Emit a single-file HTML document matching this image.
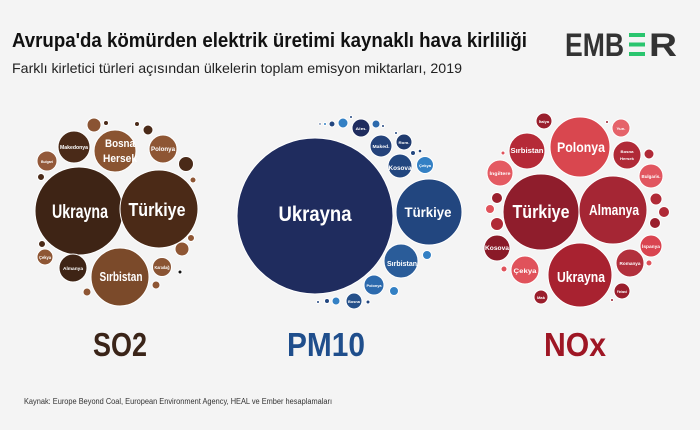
<!DOCTYPE html>
<html><head><meta charset="utf-8"><style>
html,body{margin:0;padding:0;background:#f4f4f4;}
svg{display:block;}
text{font-family:"Liberation Sans","DejaVu Sans",sans-serif;}
.w{fill:#fff;font-weight:bold;text-anchor:middle;}
circle{stroke:#fff;stroke-width:1;}
</style></head><body>
<svg width="700" height="430" viewBox="0 0 700 430" xmlns="http://www.w3.org/2000/svg">
<rect width="700" height="430" fill="#f4f4f4"/>
<text x="12" y="47" font-size="20" font-weight="bold" fill="#111" textLength="515" lengthAdjust="spacingAndGlyphs">Avrupa'da kömürden elektrik üretimi kaynaklı hava kirliliği</text>
<text x="12" y="73" font-size="14" fill="#222" textLength="450" lengthAdjust="spacingAndGlyphs">Farklı kirletici türleri açısından ülkelerin toplam emisyon miktarları, 2019</text>
<!-- logo -->
<text x="565" y="56" font-size="32" font-weight="bold" fill="#333" textLength="59" lengthAdjust="spacingAndGlyphs">EMB</text>
<rect x="629" y="33" width="16" height="4" fill="#2ac56e"/>
<rect x="629" y="42.5" width="16" height="4" fill="#2ac56e"/>
<rect x="629" y="52" width="16" height="4" fill="#2ac56e"/>
<text x="649" y="56" font-size="32" font-weight="bold" fill="#333" textLength="28" lengthAdjust="spacingAndGlyphs">R</text>

<!-- SO2 -->
<g>
<circle cx="79" cy="211" r="44" fill="#3e2415"/>
<circle cx="159" cy="209" r="39" fill="#4b2a17"/>
<circle cx="120" cy="277" r="29" fill="#7b4a2a"/>
<circle cx="115" cy="151" r="21" fill="#8a5431"/>
<circle cx="74" cy="147" r="16" fill="#4a2a18"/>
<circle cx="163" cy="149" r="14" fill="#8e5634"/>
<circle cx="47" cy="161" r="10" fill="#93593a"/>
<circle cx="94" cy="125" r="7" fill="#8a5433"/>
<circle cx="106" cy="123" r="2.5" fill="#4a2a18"/>
<circle cx="148" cy="130" r="5" fill="#4a2a18"/>
<circle cx="137" cy="124" r="2.5" fill="#4a2a18"/>
<circle cx="186" cy="164" r="7.5" fill="#4a2a18"/>
<circle cx="193" cy="180" r="3" fill="#8e5634"/>
<circle cx="41" cy="177" r="3.5" fill="#4a2a18"/>
<circle cx="42" cy="244" r="3.5" fill="#4a2a18"/>
<circle cx="45" cy="257" r="8" fill="#8e5634"/>
<circle cx="73" cy="268" r="14" fill="#3e2415"/>
<circle cx="87" cy="292" r="4" fill="#8e5634"/>
<circle cx="162" cy="267" r="9.5" fill="#8a5433"/>
<circle cx="182" cy="249" r="7" fill="#8e5634"/>
<circle cx="192" cy="246" r="0" fill="#8e5634"/>
<circle cx="191" cy="238" r="3.5" fill="#8e5634"/>
<circle cx="180" cy="272" r="2" fill="#111"/>
<circle cx="156" cy="285" r="4" fill="#8e5634"/>
<text class="w" x="80" y="218" font-size="19" textLength="56" lengthAdjust="spacingAndGlyphs">Ukrayna</text>
<text class="w" x="157" y="216" font-size="18" textLength="57" lengthAdjust="spacingAndGlyphs">Türkiye</text>
<text class="w" x="121" y="281" font-size="13" textLength="43" lengthAdjust="spacingAndGlyphs">Sırbistan</text>
<text class="w" x="120" y="147" font-size="11" textLength="30" lengthAdjust="spacingAndGlyphs">Bosna</text>
<text class="w" x="120" y="162" font-size="11" textLength="34" lengthAdjust="spacingAndGlyphs">Hersek</text>
<text class="w" x="74" y="149" font-size="5" textLength="28" lengthAdjust="spacingAndGlyphs">Makedonya</text>
<text class="w" x="163" y="151" font-size="6" textLength="24" lengthAdjust="spacingAndGlyphs">Polonya</text>
<text class="w" x="47" y="163" font-size="4" textLength="12" lengthAdjust="spacingAndGlyphs">Bulgari</text>
<text class="w" x="45" y="259" font-size="4.5" textLength="12" lengthAdjust="spacingAndGlyphs">Çekya</text>
<text class="w" x="73" y="270" font-size="4.5" textLength="20" lengthAdjust="spacingAndGlyphs">Almanya</text>
<text class="w" x="162" y="269" font-size="4.5" textLength="15" lengthAdjust="spacingAndGlyphs">Karadağ</text>
</g>

<!-- PM10 -->
<g>
<circle cx="315" cy="216" r="78" fill="#1f2c5e"/>
<circle cx="429" cy="212" r="33" fill="#22467f"/>
<circle cx="401" cy="261" r="17" fill="#2a5c99"/>
<circle cx="374" cy="285" r="10" fill="#2c6aad"/>
<circle cx="354" cy="301" r="8" fill="#25508a"/>
<circle cx="336" cy="301" r="4" fill="#3380c4"/>
<circle cx="327" cy="301" r="2.5" fill="#22467f"/>
<circle cx="318" cy="302" r="1.5" fill="#22467f"/>
<circle cx="368" cy="302" r="2" fill="#22467f"/>
<circle cx="394" cy="291" r="4.5" fill="#3380c4"/>
<circle cx="427" cy="255" r="4.5" fill="#3380c4"/>
<circle cx="400" cy="166" r="12" fill="#22467f"/>
<circle cx="425" cy="165" r="8.5" fill="#3380c4"/>
<circle cx="381" cy="146" r="11" fill="#24427a"/>
<circle cx="404" cy="142" r="8" fill="#1f3a6e"/>
<circle cx="361" cy="128" r="9" fill="#1f2c5e"/>
<circle cx="376" cy="124" r="4" fill="#2c6aad"/>
<circle cx="383" cy="126" r="1.5" fill="#22467f"/>
<circle cx="343" cy="123" r="5" fill="#3380c4"/>
<circle cx="332" cy="124" r="3" fill="#22467f"/>
<circle cx="325" cy="124" r="1.5" fill="#3380c4"/>
<circle cx="320" cy="124" r="1.2" fill="#22467f"/>
<circle cx="351" cy="117" r="1.5" fill="#22467f"/>
<circle cx="396" cy="133" r="1.5" fill="#22467f"/>
<circle cx="413" cy="153" r="2.5" fill="#22467f"/>
<circle cx="420" cy="151" r="1.8" fill="#22467f"/>
<text class="w" x="315" y="221" font-size="21" textLength="73" lengthAdjust="spacingAndGlyphs">Ukrayna</text>
<text class="w" x="428" y="217" font-size="14" textLength="47" lengthAdjust="spacingAndGlyphs">Türkiye</text>
<text class="w" x="402" y="266" font-size="7.5" textLength="30" lengthAdjust="spacingAndGlyphs">Sırbistan</text>
<text class="w" x="400" y="170" font-size="6.5" textLength="23" lengthAdjust="spacingAndGlyphs">Kosova</text>
<text class="w" x="425" y="167" font-size="4" textLength="12" lengthAdjust="spacingAndGlyphs">Çekya</text>
<text class="w" x="381" y="148" font-size="4.5" textLength="17" lengthAdjust="spacingAndGlyphs">Maked.</text>
<text class="w" x="404" y="144" font-size="4" textLength="11" lengthAdjust="spacingAndGlyphs">Rom.</text>
<text class="w" x="361" y="130" font-size="4" textLength="11" lengthAdjust="spacingAndGlyphs">Alm.</text>
<text class="w" x="374" y="287" font-size="4" textLength="15" lengthAdjust="spacingAndGlyphs">Polonya</text>
<text class="w" x="354" y="303" font-size="4" textLength="12" lengthAdjust="spacingAndGlyphs">Bosna</text>
</g>

<!-- NOx -->
<g>
<circle cx="541" cy="212" r="38" fill="#8f1d2c"/>
<circle cx="613" cy="210" r="34" fill="#a52634"/>
<circle cx="580" cy="147" r="30" fill="#d9474f"/>
<circle cx="580" cy="275" r="32" fill="#a82230"/>
<circle cx="527" cy="151" r="18" fill="#b52a37"/>
<circle cx="544" cy="121" r="8" fill="#9a1f2d"/>
<circle cx="621" cy="128" r="9" fill="#e5636a"/>
<circle cx="627" cy="155" r="14" fill="#b02a37"/>
<circle cx="651" cy="176" r="12" fill="#e15660"/>
<circle cx="500" cy="173" r="13" fill="#e45a62"/>
<circle cx="497" cy="198" r="5.5" fill="#9a1f2d"/>
<circle cx="490" cy="209" r="4.5" fill="#e0525b"/>
<circle cx="497" cy="224" r="6.5" fill="#b02a37"/>
<circle cx="497" cy="248" r="13" fill="#8a1a28"/>
<circle cx="525" cy="270" r="14" fill="#e0525b"/>
<circle cx="504" cy="269" r="3" fill="#e0525b"/>
<circle cx="541" cy="297" r="7" fill="#9a1e2c"/>
<circle cx="649" cy="154" r="5" fill="#b02a37"/>
<circle cx="656" cy="199" r="6" fill="#b02a37"/>
<circle cx="664" cy="212" r="5.5" fill="#b02a37"/>
<circle cx="655" cy="223" r="5.5" fill="#9a1e2c"/>
<circle cx="651" cy="246" r="11" fill="#d94450"/>
<circle cx="630" cy="263" r="14" fill="#b2303c"/>
<circle cx="649" cy="263" r="3" fill="#e0525b"/>
<circle cx="622" cy="291" r="8" fill="#9a1e2c"/>
<circle cx="607" cy="122" r="1.5" fill="#9a1e2c"/>
<circle cx="503" cy="153" r="2" fill="#e0525b"/>
<circle cx="612" cy="300" r="1.5" fill="#9a1e2c"/>
<text class="w" x="541" y="218" font-size="18" textLength="57" lengthAdjust="spacingAndGlyphs">Türkiye</text>
<text class="w" x="614" y="215" font-size="15" textLength="50" lengthAdjust="spacingAndGlyphs">Almanya</text>
<text class="w" x="581" y="152" font-size="14" textLength="48" lengthAdjust="spacingAndGlyphs">Polonya</text>
<text class="w" x="581" y="282" font-size="15" textLength="48" lengthAdjust="spacingAndGlyphs">Ukrayna</text>
<text class="w" x="527" y="153" font-size="7.5" textLength="33" lengthAdjust="spacingAndGlyphs">Sırbistan</text>
<text class="w" x="500" y="175" font-size="4.5" textLength="21" lengthAdjust="spacingAndGlyphs">İngiltere</text>
<text class="w" x="497" y="250" font-size="6" textLength="24" lengthAdjust="spacingAndGlyphs">Kosova</text>
<text class="w" x="525" y="273" font-size="6.5" textLength="23" lengthAdjust="spacingAndGlyphs">Çekya</text>
<text class="w" x="630" y="265" font-size="4.5" textLength="21" lengthAdjust="spacingAndGlyphs">Romanya</text>
<text class="w" x="651" y="248" font-size="4.5" textLength="18" lengthAdjust="spacingAndGlyphs">İspanya</text>
<text class="w" x="651" y="178" font-size="4.5" textLength="19" lengthAdjust="spacingAndGlyphs">Bulgaris.</text>
<text class="w" x="627" y="153" font-size="4" textLength="13" lengthAdjust="spacingAndGlyphs">Bosna</text>
<text class="w" x="627" y="160" font-size="4" textLength="14" lengthAdjust="spacingAndGlyphs">Hersek</text>
<text class="w" x="621" y="130" font-size="4" textLength="9" lengthAdjust="spacingAndGlyphs">Yun.</text>
<text class="w" x="544" y="123" font-size="3.5" textLength="10" lengthAdjust="spacingAndGlyphs">İtalya</text>
<text class="w" x="541" y="299" font-size="3.5" textLength="8" lengthAdjust="spacingAndGlyphs">Mak</text>
<text class="w" x="622" y="293" font-size="3.5" textLength="10" lengthAdjust="spacingAndGlyphs">Finland</text>
</g>

<!-- bottom labels -->
<text x="93" y="356" font-size="33" font-weight="bold" fill="#3a2418" textLength="54" lengthAdjust="spacingAndGlyphs">SO2</text>
<text x="287" y="356" font-size="33" font-weight="bold" fill="#1f4e8c" textLength="78" lengthAdjust="spacingAndGlyphs">PM10</text>
<text x="544" y="356" font-size="33" font-weight="bold" fill="#9e1624" textLength="62" lengthAdjust="spacingAndGlyphs">NOx</text>

<text x="24" y="404" font-size="8" fill="#333" textLength="308" lengthAdjust="spacingAndGlyphs">Kaynak: Europe Beyond Coal, European Environment Agency, HEAL ve Ember hesaplamaları</text>
</svg>
</body></html>
